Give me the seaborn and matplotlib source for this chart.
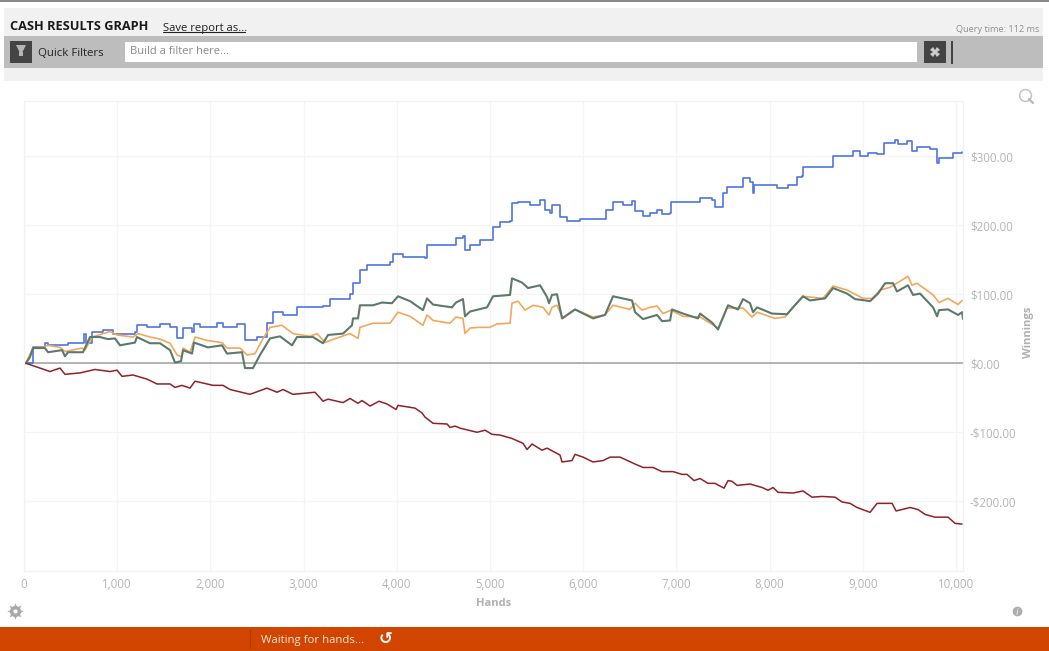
import pandas as pd
import seaborn as sns
import matplotlib.pyplot as plt
from matplotlib.patches import Rectangle
from matplotlib.lines import Line2D

W, H = 1049, 651

blue_x = [0, 20, 97, 225, 258, 472, 633, 644, 665, 730, 848, 955, 1191, 1212, 1320, 1459, 1567, 1642, 1695, 1706, 1803, 1824, 1888, 2071, 2135, 2285, 2371, 2500, 2607, 2672, 2779, 2897, 2929, 3208, 3283, 3498, 3530, 3584, 3605, 3680, 3927, 3959, 4067, 4303, 4324, 4603, 4635, 4710, 4732, 4786, 4871, 4893, 5000, 5032, 5107, 5215, 5236, 5300, 5429, 5537, 5590, 5644, 5665, 5719, 5751, 5826, 5966, 6213, 6245, 6320, 6427, 6524, 6556, 6642, 6717, 6792, 6846, 6932, 6942, 7168, 7254, 7382, 7415, 7468, 7500, 7543, 7651, 7715, 7790, 7822, 7833, 8026, 8080, 8198, 8294, 8348, 8358, 8595, 8681, 8831, 8895, 8970, 9056, 9153, 9228, 9324, 9346, 9378, 9475, 9528, 9582, 9721, 9797, 9818, 9904, 9968, 10065]
blue_y = [0, 0, 23, 30, 26, 30, 30, 43, 29, 45, 48, 43, 46, 55, 52, 57, 52, 36, 36, 51, 46, 57, 52, 58, 52, 57, 33, 38, 58, 74, 70, 70, 81, 83, 93, 101, 117, 117, 135, 142, 146, 158, 154, 152, 172, 172, 181, 185, 164, 171, 172, 178, 178, 197, 204, 206, 232, 233, 229, 236, 222, 217, 229, 230, 212, 206, 209, 209, 222, 233, 230, 235, 220, 214, 217, 222, 216, 217, 233, 233, 239, 236, 227, 227, 246, 255, 255, 268, 262, 246, 258, 258, 254, 258, 270, 271, 284, 285, 300, 300, 307, 300, 304, 303, 319, 319, 323, 317, 322, 307, 313, 310, 290, 298, 298, 304, 306]

orange_x = [0, 20, 97, 204, 258, 386, 440, 622, 654, 730, 923, 998, 1170, 1223, 1352, 1459, 1567, 1642, 1695, 1706, 1781, 1835, 1964, 2125, 2178, 2318, 2393, 2479, 2565, 2640, 2768, 2886, 3069, 3144, 3230, 3283, 3498, 3584, 3605, 3745, 3927, 4013, 4142, 4281, 4324, 4389, 4571, 4635, 4710, 4732, 4786, 4871, 5000, 5075, 5215, 5236, 5300, 5376, 5462, 5569, 5633, 5665, 5719, 5784, 5912, 6105, 6234, 6320, 6502, 6556, 6631, 6717, 6792, 6857, 6942, 7071, 7254, 7447, 7543, 7715, 7811, 7865, 8058, 8165, 8251, 8358, 8573, 8681, 8831, 9003, 9099, 9185, 9292, 9485, 9528, 9582, 9754, 9818, 9915, 10022, 10065]
orange_y = [0, 0, 23, 23, 26, 23, 17, 22, 19, 38, 46, 41, 38, 43, 38, 35, 29, 12, 9, 22, 16, 38, 33, 30, 22, 22, 12, 14, 36, 52, 55, 43, 39, 43, 30, 33, 43, 36, 52, 58, 58, 74, 68, 55, 70, 62, 58, 67, 65, 43, 51, 52, 52, 57, 58, 87, 90, 77, 84, 81, 70, 81, 84, 65, 78, 67, 70, 84, 78, 87, 77, 81, 83, 72, 77, 68, 67, 51, 80, 80, 67, 74, 65, 67, 81, 97, 94, 112, 106, 94, 94, 106, 110, 126, 113, 116, 99, 88, 94, 85, 91]

green_x = [0, 20, 64, 97, 225, 258, 408, 440, 472, 633, 708, 815, 901, 976, 1030, 1191, 1212, 1352, 1459, 1567, 1620, 1685, 1706, 1803, 1824, 1974, 2125, 2178, 2339, 2371, 2457, 2532, 2640, 2747, 2876, 2929, 3101, 3208, 3262, 3423, 3519, 3530, 3584, 3605, 3745, 3841, 3948, 4013, 4142, 4281, 4324, 4389, 4592, 4635, 4710, 4732, 4786, 4968, 5032, 5215, 5236, 5343, 5408, 5537, 5612, 5633, 5665, 5719, 5773, 5912, 6105, 6234, 6320, 6524, 6556, 6642, 6717, 6792, 6846, 6932, 6953, 7071, 7232, 7254, 7382, 7447, 7554, 7661, 7715, 7790, 7822, 7865, 8026, 8187, 8251, 8358, 8433, 8595, 8681, 8831, 8917, 9078, 9164, 9239, 9324, 9367, 9485, 9539, 9614, 9754, 9797, 9818, 9915, 10022, 10065, 10075]
green_y = [0, 0, 9, 22, 22, 16, 19, 10, 16, 16, 38, 38, 35, 36, 26, 30, 38, 29, 29, 19, 1, 3, 19, 14, 30, 23, 26, 14, 16, -7, -7, 12, 36, 39, 26, 38, 38, 29, 41, 43, 55, 65, 65, 84, 84, 88, 87, 97, 90, 77, 94, 85, 81, 88, 93, 68, 75, 81, 97, 99, 123, 117, 109, 113, 96, 87, 99, 100, 65, 78, 65, 70, 97, 91, 74, 64, 67, 70, 61, 62, 78, 72, 65, 72, 59, 49, 84, 78, 93, 87, 74, 81, 72, 71, 81, 97, 91, 94, 109, 101, 93, 90, 101, 116, 116, 104, 113, 99, 101, 81, 68, 77, 78, 70, 74, 64]

red_x = [0, 20, 150, 279, 386, 440, 601, 762, 923, 998, 1052, 1170, 1320, 1427, 1567, 1620, 1695, 1781, 1835, 2028, 2135, 2210, 2425, 2607, 2715, 2779, 2886, 3122, 3176, 3208, 3262, 3423, 3498, 3584, 3627, 3713, 3809, 3895, 3992, 4013, 4195, 4270, 4303, 4389, 4539, 4571, 4625, 4678, 4861, 4947, 5022, 5107, 5236, 5354, 5397, 5451, 5558, 5612, 5751, 5773, 5880, 5912, 5998, 6105, 6213, 6288, 6395, 6556, 6642, 6749, 6846, 6964, 7060, 7114, 7189, 7254, 7339, 7414, 7511, 7554, 7597, 7651, 7790, 7919, 7983, 8037, 8090, 8251, 8358, 8455, 8563, 8702, 8777, 8863, 8938, 9078, 9153, 9314, 9357, 9507, 9593, 9668, 9775, 9915, 9990, 10065]
red_y = [0, 0, -6, -12, -7, -16, -14, -9, -12, -10, -19, -17, -23, -30, -30, -35, -32, -36, -26, -32, -32, -38, -45, -36, -42, -38, -45, -42, -50, -55, -52, -57, -51, -58, -54, -62, -55, -59, -67, -61, -65, -72, -78, -87, -88, -93, -91, -94, -100, -97, -103, -104, -109, -116, -125, -117, -126, -123, -133, -143, -141, -132, -136, -143, -141, -136, -136, -146, -151, -151, -157, -157, -161, -161, -170, -167, -174, -174, -181, -170, -171, -177, -175, -180, -184, -180, -187, -188, -185, -194, -193, -194, -201, -203, -209, -216, -203, -203, -214, -209, -212, -219, -223, -223, -232, -233]

x_ticks = [0, 1000, 2000, 3000, 4000, 5000, 6000, 7000, 8000, 9000, 10000]
y_ticks = [-200, -100, 0, 100, 200, 300]
y_labels = ['-$200.00', '-$100.00', '$0.00', '$100.00', '$200.00', '$300.00']

series = [('blue', blue_x, blue_y), ('orange', orange_x, orange_y),
          ('green', green_x, green_y), ('red', red_x, red_y)]
df = pd.concat([pd.DataFrame({'hands': x, 'winnings': y, 'series': name}) for name, x, y in series])

sns.set_style('white')
plt.rcParams['font.family'] = ['Open Sans', 'DejaVu Sans']

fig = plt.figure(figsize=(W / 100, H / 100), dpi=100, facecolor='white')


def box(x0, y0, x1, y1, color):
    fig.add_artist(Rectangle((x0 / W, 1 - y1 / H), (x1 - x0) / W, (y1 - y0) / H,
                             transform=fig.transFigure, color=color, lw=0))


def label(x, y, s, **kw):
    kw.setdefault('va', 'center')
    fig.text(x / W, 1 - y / H, s, **kw)


def icon(x, y, marker, size, color, **kw):
    fig.add_artist(Line2D([x / W], [1 - y / H], marker=marker, markersize=size, color=color, lw=0, **kw))


# app chrome around the chart
box(0, 0, W, 2, '#8a8a8a')
box(4, 8, 1043, 81, '#f1f1f1')
box(4, 36, 1043, 68, '#bdbdbd')
box(125, 42, 917, 62, 'white')
box(10, 41, 32, 63, '#444444')
box(924, 41, 946, 63, '#444444')
box(951, 41, 953, 64, '#444444')
box(0, 627, W, H, '#d24500')

label(10, 26, 'CASH RESULTS GRAPH', fontsize=9.2, fontweight='bold', color='#1a1a1a')
label(163, 28, 'Save report as...', fontsize=8.1, color='#222222')
fig.add_artist(Line2D([163 / W, 245 / W], [1 - 32 / H, 1 - 32 / H], color='#222222', lw=0.8))
label(1039, 29, 'Query time: 112 ms', fontsize=6.6, color='#8f8f8f', ha='right')
label(38, 54, 'Quick Filters', fontsize=8.2, color='#222222')
label(130, 52, 'Build a filter here...', fontsize=8, color='#8a8a8a')
label(261, 641, 'Waiting for hands...', fontsize=8.2, color='#f6e6dc')
label(386, 639, '↺', fontsize=12, color='white', ha='center', fontweight='bold', family='DejaVu Sans')
fig.add_artist(Line2D([250 / W, 250 / W], [1 - 630 / H, 1 - 648 / H], color='#a83c08', lw=0.8))

# icons
icon(21, 50, 'v', 7, '#b5b5b5', markeredgewidth=0)
icon(21, 54, 's', 3, '#b5b5b5', markeredgewidth=0)
icon(935, 52, 'X', 7, '#cccccc', markeredgewidth=0)
icon(15, 611, (8, 1, 0), 12, '#a8a8a8', markeredgewidth=0)
icon(15, 611, 'o', 8, '#a8a8a8', markeredgewidth=0)
icon(15, 611, 'o', 3, 'white', markeredgewidth=0)
icon(1025, 95, 'o', 8.5, '#c4c4c4', markerfacecolor='none', markeredgewidth=1.1)
fig.add_artist(Line2D([1029 / W, 1033 / W], [1 - 99 / H, 1 - 103 / H], color='#b8b8b8', lw=1.6))
icon(1017, 611, 'o', 7, '#adadad', markeredgewidth=0)
icon(1017, 611, '$i$', 4.5, 'white', markeredgewidth=0)

ax = fig.add_axes([24 / W, 1 - 571 / H, (963 - 24) / W, (571 - 101) / H])
ax.axhline(0, color='#a0a0a0', lw=1.1, zorder=1)
sns.lineplot(data=df, x='hands', y='winnings', hue='series', hue_order=['blue', 'orange', 'green', 'red'],
             palette={'blue': '#4f74e3', 'orange': '#f4a75c', 'green': '#5b7a6b', 'red': '#8f2226'},
             estimator=None, sort=False, legend=False, linewidth=1.2, ax=ax)
ax.lines[1].set_drawstyle('steps-post')
ax.lines[3].set_linewidth(1.5)
ax.lines[4].set_linewidth(1.1)

ax.set_xlim(0, 10075)
ax.set_ylim(-301, 380)
ax.set_xticks(x_ticks)
ax.set_xticklabels([f'{t:,}' for t in x_ticks])
ax.yaxis.tick_right()
ax.set_yticks(y_ticks)
ax.set_yticklabels(y_labels)
ax.grid(True, color='#f4f4f4', lw=0.9)
ax.set_axisbelow(True)
ax.tick_params(axis='both', length=0, labelsize=8.3, labelcolor='#b4b4b4', pad=5)
for side in ax.spines.values():
    side.set_color('#f2f2f2')
    side.set_linewidth(0.9)

ax.set_xlabel('')
ax.set_ylabel('')
label(494, 604, 'Hands', fontsize=8, fontweight='bold', color='#b0b0b0', ha='center')
label(1029, 332, 'Winnings', fontsize=8, fontweight='bold', color='#b0b0b0', ha='center', rotation=90)

fig.savefig('out.png', dpi=100)
